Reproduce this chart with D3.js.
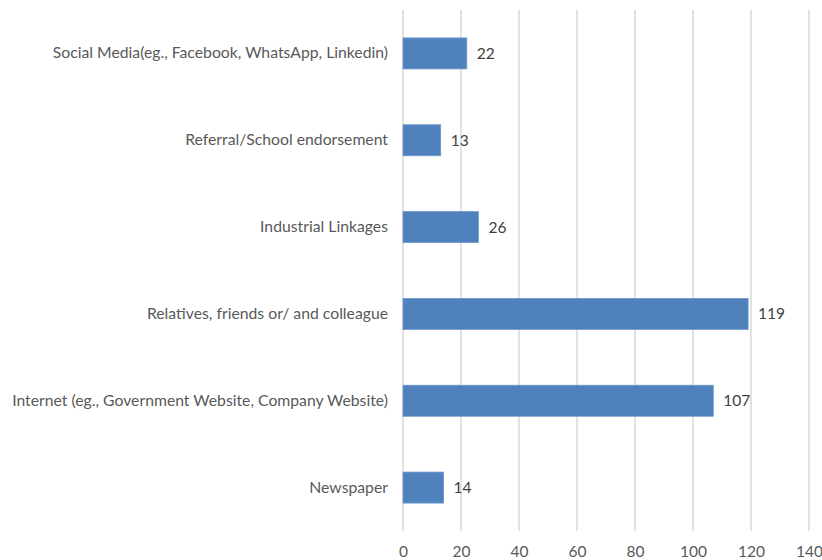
<!DOCTYPE html>
<html>
<head>
<meta charset="utf-8">
<script src="https://cdn.jsdelivr.net/npm/d3@7"></script>
<style>
  html, body { margin: 0; padding: 0; background: #ffffff; }
  svg { display: block; }
  text { font-family: Lato, "Open Sans", "Liberation Sans", sans-serif; }
</style>
</head>
<body>
<svg id="chart" width="822" height="560"></svg>
<script>
// Sources through which respondents heard about openings (count of responses)
const categories = [
  "Social Media(eg., Facebook, WhatsApp, Linkedin)",
  "Referral/School endorsement",
  "Industrial Linkages",
  "Relatives, friends or/ and colleague",
  "Internet (eg., Government Website, Company Website)",
  "Newspaper"
];
const values = [22, 13, 26, 119, 107, 14];
const tickValues = [0, 20, 40, 60, 80, 100, 120, 140];

const svg = d3.select("#chart");
const margin = { top: 10, right: 13, bottom: 29, left: 403 };
const width = 822 - margin.left - margin.right;
const height = 560 - margin.top - margin.bottom;

const g = svg.append("g").attr("transform", `translate(${margin.left},${margin.top})`);

const x = d3.scaleLinear().domain([0, 140]).range([0, width]);
const y = d3.scaleBand().domain(categories).range([0, height]).paddingInner(0.643).paddingOuter(0.3215);

// vertical gridlines
g.selectAll("line.grid")
  .data(tickValues)
  .join("line")
  .attr("class", "grid")
  .attr("x1", d => x(d)).attr("x2", d => x(d))
  .attr("y1", 0).attr("y2", height)
  .attr("stroke", "#d9d9d9")
  .attr("stroke-width", 1.5);

// bars
g.selectAll("rect.bar")
  .data(values)
  .join("rect")
  .attr("class", "bar")
  .attr("x", x(0))
  .attr("y", (d, i) => y(categories[i]))
  .attr("width", d => x(d) - x(0))
  .attr("height", y.bandwidth())
  .attr("fill", "#4f81bd")
  .attr("stroke", "#6e97cb")
  .attr("stroke-width", 0.8);

// value labels
g.selectAll("text.value")
  .data(values)
  .join("text")
  .attr("class", "value")
  .attr("x", d => x(d) + 10)
  .attr("y", (d, i) => y(categories[i]) + y.bandwidth() / 2)
  .attr("dy", "0.35em")
  .attr("fill", "#404040")
  .attr("font-size", 15.5)
  .text(d => d);

// category axis labels
const yAxis = d3.axisLeft(y).tickSize(0).tickPadding(15);
const ya = g.append("g").call(yAxis);
ya.select(".domain").remove();
ya.selectAll("text")
  .attr("fill", "#595959")
  .attr("font-size", 15.75)
  .style("font-family", "Lato, 'Open Sans', 'Liberation Sans', sans-serif");

// value axis labels
const xAxis = d3.axisBottom(x).tickValues(tickValues).tickSize(0).tickPadding(15);
const xa = g.append("g").attr("transform", `translate(0,${height})`).call(xAxis);
xa.select(".domain").remove();
xa.selectAll("text")
  .attr("fill", "#595959")
  .attr("font-size", 15.5)
  .style("font-family", "Lato, 'Open Sans', 'Liberation Sans', sans-serif");
</script>
</body>
</html>
